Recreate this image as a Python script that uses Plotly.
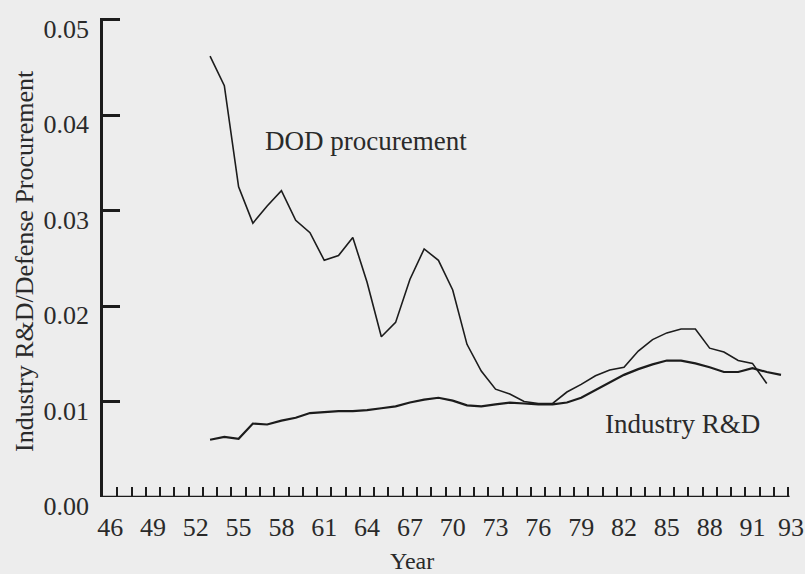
import plotly.graph_objects as go

# ---- data ----
dod_years = list(range(53, 93))
dod_values = [0.0462, 0.0431, 0.0325, 0.0287, 0.0305, 0.0321, 0.0290, 0.0277, 0.0248, 0.0253,
              0.0272, 0.0225, 0.0168, 0.0183, 0.0228, 0.0260, 0.0248, 0.0217, 0.0160, 0.0132,
              0.0113, 0.0108, 0.0100, 0.0098, 0.0098, 0.0110, 0.0118, 0.0127, 0.0133, 0.0136,
              0.0153, 0.0165, 0.0172, 0.0176, 0.0176, 0.0156, 0.0152, 0.0143, 0.0140, 0.0119]

rd_years = list(range(53, 94))
rd_values = [0.0060, 0.0063, 0.0061, 0.0077, 0.0076, 0.0080, 0.0083, 0.0088, 0.0089, 0.0090,
             0.0090, 0.0091, 0.0093, 0.0095, 0.0099, 0.0102, 0.0104, 0.0101, 0.0096, 0.0095,
             0.0097, 0.0099, 0.0098, 0.0097, 0.0097, 0.0099, 0.0104, 0.0112, 0.0120, 0.0128,
             0.0134, 0.0139, 0.0143, 0.0143, 0.0140, 0.0136, 0.0131, 0.0131, 0.0135, 0.0131,
             0.0128]

x_tick_vals = [46, 49, 52, 55, 58, 61, 64, 67, 70, 73, 76, 79, 82, 85, 88, 91, 93.7]
x_tick_text = ["46", "49", "52", "55", "58", "61", "64", "67", "70", "73", "76", "79",
               "82", "85", "88", "91", "93"]
x_minor_ticks = [y + 0.5 for y in range(46, 94)]
y_tick_vals = [0.00, 0.01, 0.02, 0.03, 0.04, 0.05]
y_tick_text = ["0.00", "0.01", "0.02", "0.03", "0.04", "0.05"]

X_START, X_AXIS_END, X_RANGE_END = 45.5, 93.6, 94.05

FONT = "Liberation Serif"
INK = "#1c1c1c"
TXT = "#2a2a2a"
BG = "#ededed"

fig = go.Figure()
fig.add_trace(go.Scatter(x=dod_years, y=dod_values, mode="lines",
                         line=dict(color=INK, width=1.6), showlegend=False))
fig.add_trace(go.Scatter(x=rd_years, y=rd_values, mode="lines",
                         line=dict(color=INK, width=2.2), showlegend=False))

fig.update_layout(
    width=805, height=574,
    margin=dict(l=103, r=9, t=18, b=77),
    paper_bgcolor=BG, plot_bgcolor=BG,
    font=dict(family=FONT, size=26, color=TXT),
    showlegend=False,
)

fig.update_xaxes(
    range=[X_START, X_RANGE_END], showgrid=False, zeroline=False, automargin=False,
    showline=False,
    tickmode="array", tickvals=x_tick_vals, ticktext=x_tick_text,
    ticks="", ticklabelstandoff=12, ticklabeloverflow="allow",
    tickfont=dict(family=FONT, size=26, color=TXT),
    minor=dict(tickmode="array", tickvals=x_minor_ticks, ticks="inside",
               ticklen=10, tickwidth=2, tickcolor=INK, showgrid=False),
)
fig.update_yaxes(
    range=[0, 0.0502], showgrid=False, zeroline=False, automargin=False,
    showline=True, linecolor=INK, linewidth=2.5,
    tickmode="array", tickvals=y_tick_vals, ticktext=y_tick_text,
    ticks="inside", ticklen=17, tickwidth=2.5, tickcolor=INK,
    ticklabelstandoff=6, ticklabelshift=9,
    tickfont=dict(family=FONT, size=26, color=TXT),
)

# x axis line (stops just past the last year tick, as in the reference)
fig.add_shape(type="line", xref="x", yref="y", x0=X_START, x1=X_AXIS_END, y0=0, y1=0,
              line=dict(color=INK, width=2.5))

fig.add_annotation(text="DOD procurement", x=56.7, y=0.0373, xref="x", yref="y",
                   xanchor="left", yanchor="middle", showarrow=False,
                   font=dict(family=FONT, size=27, color=TXT))
fig.add_annotation(text="Industry R&amp;D", x=80.56, y=0.00764, xref="x", yref="y",
                   xanchor="left", yanchor="middle", showarrow=False,
                   font=dict(family=FONT, size=27, color=TXT))
fig.add_annotation(text="Year", x=(412 - 103) / 693, y=(497 - 561) / 479,
                   xref="paper", yref="paper", xanchor="center", yanchor="middle",
                   showarrow=False, font=dict(family=FONT, size=24, color=TXT))
fig.add_annotation(text="Industry R&amp;D/Defense Procurement", x=(24 - 103) / 693,
                   y=(497 - 261) / 479, xref="paper", yref="paper",
                   xanchor="center", yanchor="middle", textangle=-90, showarrow=False,
                   font=dict(family=FONT, size=26, color=TXT))

fig.write_html("out.html", config={"displayModeBar": False},
               post_script="document.body.style.margin='0';")
